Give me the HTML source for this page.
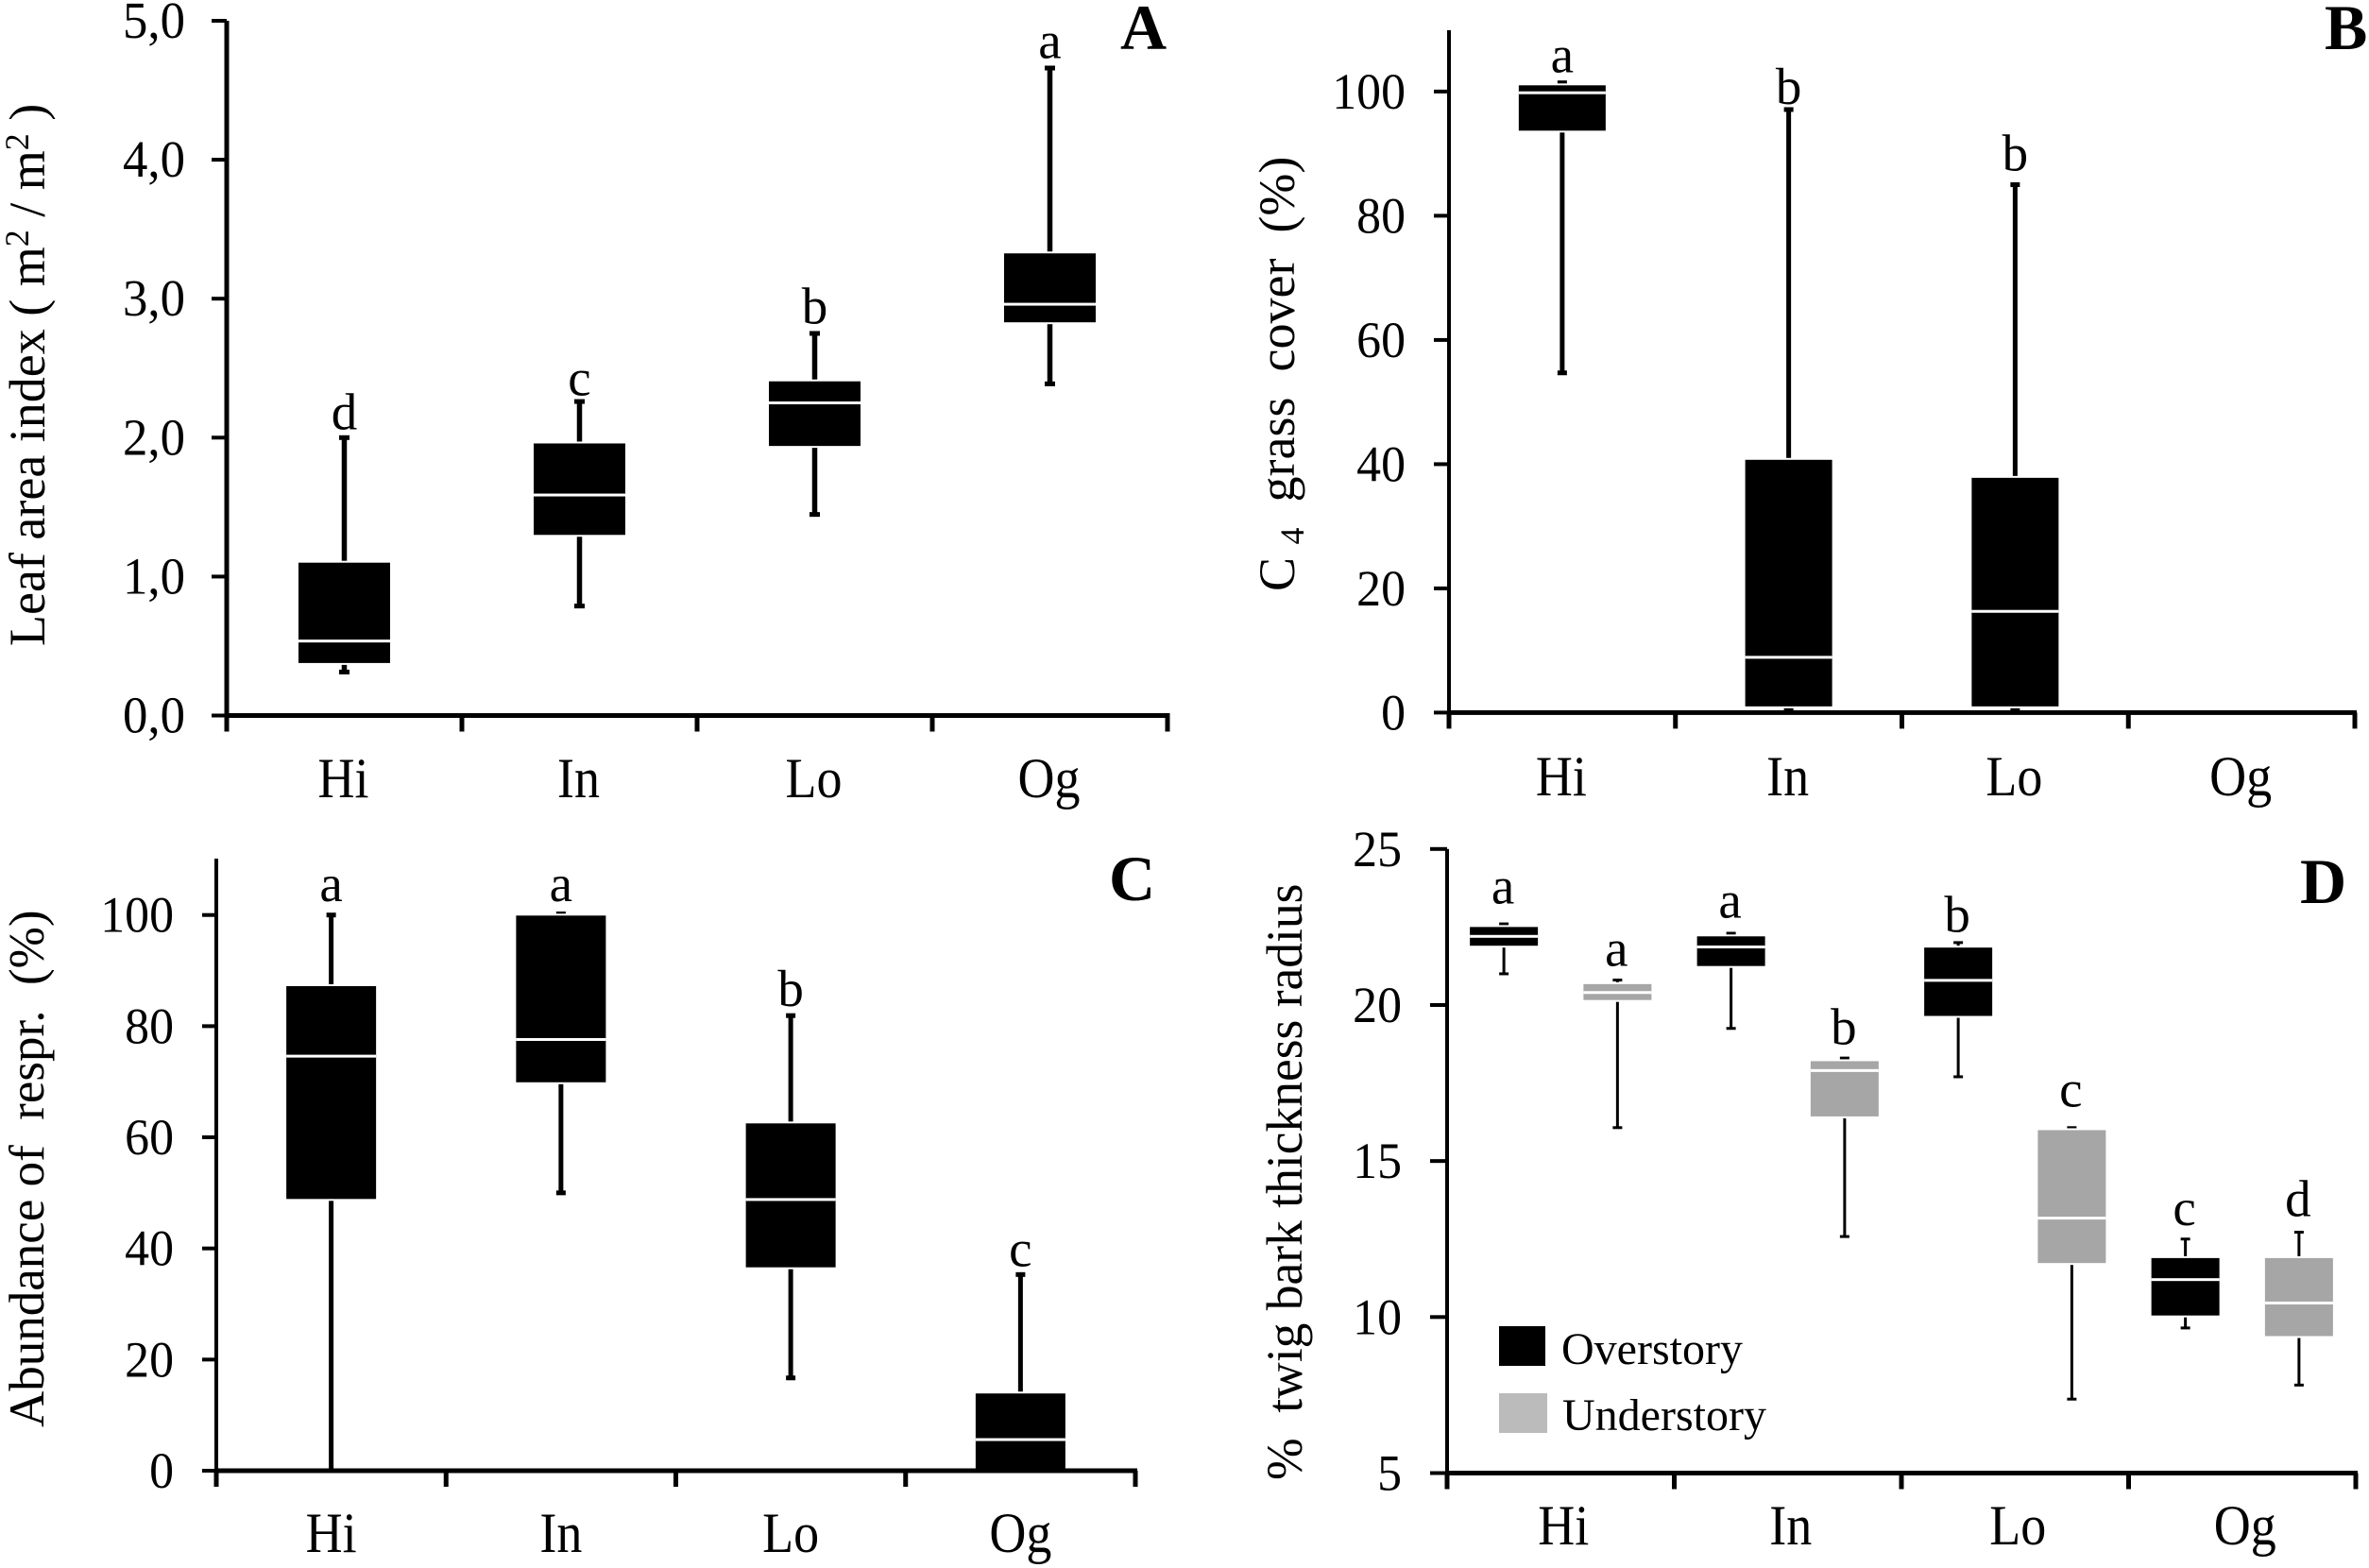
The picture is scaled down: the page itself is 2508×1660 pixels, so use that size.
<!DOCTYPE html>
<html lang="en">
<head>
<meta charset="utf-8">
<title>Box plots by site class</title>
<style>
html,body{margin:0;padding:0;background:#fff;}
svg{display:block;}
text{font-family:"Liberation Serif",serif;fill:#000;white-space:pre;}
.panel-letter{font-size:68px;font-weight:bold;}
</style>
</head>
<body>
<svg id="chart" xmlns="http://www.w3.org/2000/svg" width="2508" height="1660" viewBox="0 0 2508 1660">
  <rect x="0" y="0" width="2508" height="1660" fill="#fff"/>
  <text font-size="54" transform="translate(47,684) rotate(-90)">Leaf area index ( m<tspan font-size="36" dy="-17">2</tspan><tspan dy="17"> / m</tspan><tspan font-size="36" dy="-17">2</tspan><tspan dy="17"> )</tspan></text>
  <text font-size="54" transform="translate(1370,626) rotate(-90)">C <tspan font-size="36" dy="10">4</tspan><tspan dy="-10">  grass  cover  (%)</tspan></text>
  <text font-size="53" transform="translate(46,1511) rotate(-90)">Abundance of  respr.  (%)</text>
  <text font-size="53.5" transform="translate(1378,1567) rotate(-90)">%  twig bark thickness radius</text>
  <text class="panel-letter" x="1186" y="52">A</text>
  <text class="panel-letter" x="2461" y="52">B</text>
  <text class="panel-letter" x="1174" y="953">C</text>
  <text class="panel-letter" x="1" y="1" transform="translate(2434,955)">D</text>
  <g id="marks"></g>
  <g>
    <rect x="1587" y="1404" width="49" height="42" fill="#000"/>
    <text x="1653" y="1444" font-size="48">Overstory</text>
    <rect x="1587" y="1475" width="51" height="42" fill="#bbbbbb"/>
    <text x="1654" y="1514" font-size="48">Understory</text>
  </g>
</svg>
<script>
const siteCategories = ['Hi', 'In', 'Lo', 'Og'];

const aTickLabels = ['0,0', '1,0', '2,0', '3,0', '4,0', '5,0'];
const aTickValues = [0, 1, 2, 3, 4, 5];
const aWhiskerHigh = [2.0, 2.26, 2.75, 4.66];
const aQ3 = [1.10, 1.958, 2.405, 3.326];
const aMedian = [0.536, 1.587, 2.25, 2.96];
const aQ1 = [0.378, 1.30, 1.94, 2.83];
const aWhiskerLow = [0.313, 0.788, 1.447, 2.387];
const aLetters = ['d', 'c', 'b', 'a'];
const aLetterLevels = [2.06, 2.305, 2.82, 4.73];

const bTickLabels = ['0', '20', '40', '60', '80', '100'];
const bTickValues = [0, 20, 40, 60, 80, 100];
const bWhiskerHigh = [101.4, 97.1, 85];
const bQ3 = [101, 40.7, 37.8];
const bMedian = [99.8, 8.9, 16.3];
const bQ1 = [93.7, 1.0, 1.0];
const bWhiskerLow = [54.7, 0.7, 0.7];
const bLetters = ['a', 'b', 'b'];
const bLetterLevels = [103.1, 98.0, 87.3];

const cTickLabels = ['0', '20', '40', '60', '80', '100'];
const cTickValues = [0, 20, 40, 60, 80, 100];
const cWhiskerHigh = [100, 100.2, 81.9, 35.3];
const cQ3 = [87.2, 99.9, 62.5, 13.9];
const cMedian = [74.6, 77.6, 48.8, 5.6];
const cQ1 = [48.9, 69.9, 36.6, 0];
const cWhiskerLow = [0, 50, 16.7, 0];
const cLetters = ['a', 'a', 'b', 'c'];
const cLetterLevels = [102.5, 102.5, 83.6, 36.8];

const dTickLabels = ['5', '10', '15', '20', '25'];
const dTickValues = [5, 10, 15, 20, 25];
const dGroups = ['Hi-overstory', 'Hi-understory', 'In-overstory', 'In-understory', 'Lo-overstory', 'Lo-understory', 'Og-overstory', 'Og-understory'];
const dIsUnderstory = [false, true, false, true, false, true, false, true];
const dWhiskerHigh = [22.6, 20.8, 22.3, 18.3, 22.0, 16.07, 12.5, 12.72];
const dQ3 = [22.5, 20.67, 22.2, 18.2, 21.84, 15.99, 11.89, 11.89];
const dMedian = [22.2, 20.4, 21.86, 17.9, 20.79, 13.17, 11.2, 10.45];
const dQ1 = [21.9, 20.16, 21.25, 16.43, 19.65, 11.73, 10.05, 9.39];
const dWhiskerLow = [21.0, 16.07, 19.25, 12.58, 17.7, 7.37, 9.65, 7.82];
const dLetters = ['a', 'a', 'a', 'b', 'b', 'c', 'c', 'd'];
const dLetterLevels = [23.25, 21.25, 22.8, 18.75, 22.35, 16.75, 12.95, 13.23];

const SVG_NS = 'http://www.w3.org/2000/svg';
const marks = document.getElementById('marks');

function shape(tag, props, parent) {
  const el = document.createElementNS(SVG_NS, tag);
  for (const k in props) el.setAttribute(k, props[k]);
  parent.appendChild(el);
  return el;
}

function linearScale(v0, px0, v1, px1) {
  return function (v) { return px0 + (v - v0) * (px1 - px0) / (v1 - v0); };
}

function drawPanel(id, g) {
  const panel = shape('g', {}, marks);
  
  

  const y = g.y;
  const x = g.x;

  g.boxes.forEach(function (name, i) {
    const cx = x(i);
    const group = shape('g', {}, panel);
    
    

    const whisker = shape('rect', { x: cx - g.whiskerW / 2, y: y(g.high[i]), width: g.whiskerW, height: y(g.low[i]) - y(g.high[i]), fill: '#000' }, group);
    
    

    const capTop = shape('rect', { x: cx - g.capW / 2, y: y(g.high[i]) - g.capH / 2, width: g.capW, height: g.capH, fill: '#000' }, group);
    
    

    const capBottom = shape('rect', { x: cx - g.capW / 2, y: y(g.low[i]) - g.capH / 2, width: g.capW, height: g.capH, fill: '#000' }, group);
    
    

    const box = shape('rect', { x: cx - g.boxW / 2, y: y(g.q3[i]), width: g.boxW, height: y(g.q1[i]) - y(g.q3[i]), fill: g.fill(i), stroke: '#fff', 'stroke-width': 4, 'paint-order': 'stroke' }, group);
    
    

    const median = shape('rect', { x: cx - g.boxW / 2, y: y(g.median[i]) - 1.5, width: g.boxW, height: 3, fill: '#fff' }, group);
    
    

    const letter = shape('text', { x: cx + g.letterNudge, y: y(g.letterLevels[i]), 'text-anchor': 'middle', 'font-size': 55 }, group);
    
    
    letter.textContent = g.letters[i];
  });

  const yAxis = shape('rect', { x: g.left - g.axisW / 2, y: g.axisTop, width: g.axisW, height: g.bottom - g.axisTop + 2, fill: '#000' }, panel);
  
  

  const xAxis = shape('rect', { x: g.left - g.axisW / 2, y: g.bottom - 2.5, width: g.right - g.left + g.axisW, height: 5, fill: '#000' }, panel);
  
  

  g.tickValues.forEach(function (v, i) {
    const tick = shape('rect', { x: g.left - g.tickLen, y: y(v) - 2, width: g.tickLen, height: 4, fill: '#000' }, panel);
    
    

    const label = shape('text', { transform: 'translate(' + g.labelRight + ',' + (y(v) + 18) + ') scale(0.96,1)', 'text-anchor': 'end', 'font-size': g.tickFont }, panel);
    
    
    label.textContent = g.tickLabels[i];
  });

  const step = (g.right - g.left) / siteCategories.length;
  for (let i = 0; i <= siteCategories.length; i++) {
    const tick = shape('rect', { x: g.left + i * step - 2.5, y: g.bottom, width: 5, height: 17, fill: '#000' }, panel);
    
    
  }

  siteCategories.forEach(function (c, i) {
    const label = shape('text', { transform: 'translate(' + (g.left + (i + 0.5) * step + g.catNudge) + ',' + g.catBaseline + ') scale(0.9,1)', 'text-anchor': 'middle', 'font-size': 60 }, panel);
    
    
    label.textContent = c;
  });
}

function bandScale(left, right, count) {
  const w = (right - left) / count;
  return function (i) { return left + (i + 0.5) * w; };
}

drawPanel('a', {
  boxes: siteCategories, high: aWhiskerHigh, q3: aQ3, median: aMedian, q1: aQ1, low: aWhiskerLow,
  letters: aLetters, letterLevels: aLetterLevels, tickValues: aTickValues, tickLabels: aTickLabels,
  y: linearScale(0, 757.5, 5, 22), x: bandScale(240, 1236, 4),
  left: 240, right: 1236, bottom: 757.5, axisTop: 22, axisW: 5, tickLen: 16, labelRight: 196, tickFont: 55,
  boxW: 97, whiskerW: 5.5, capW: 11, capH: 5, catBaseline: 844, catNudge: -1, letterNudge: 0,
  fill: function () { return '#000'; }
});

drawPanel('b', {
  boxes: siteCategories.slice(0, 3), high: bWhiskerHigh, q3: bQ3, median: bMedian, q1: bQ1, low: bWhiskerLow,
  letters: bLetters, letterLevels: bLetterLevels, tickValues: bTickValues, tickLabels: bTickLabels,
  y: linearScale(0, 754.4, 100, 96.9), x: bandScale(1534, 2493, 4),
  left: 1534, right: 2493, bottom: 754.4, axisTop: 32, axisW: 4, tickLen: 16, labelRight: 1488, tickFont: 54,
  boxW: 92, whiskerW: 5, capW: 10, capH: 5, catBaseline: 842, catNudge: -1, letterNudge: 0,
  fill: function () { return '#000'; }
});

drawPanel('c', {
  boxes: siteCategories, high: cWhiskerHigh, q3: cQ3, median: cMedian, q1: cQ1, low: cWhiskerLow,
  letters: cLetters, letterLevels: cLetterLevels, tickValues: cTickValues, tickLabels: cTickLabels,
  y: linearScale(0, 1557, 100, 968.7), x: bandScale(229, 1202, 4),
  left: 229, right: 1202, bottom: 1557, axisTop: 909, axisW: 4, tickLen: 15, labelRight: 184, tickFont: 54,
  boxW: 95, whiskerW: 5, capW: 10, capH: 5, catBaseline: 1643, catNudge: 0, letterNudge: 0,
  fill: function () { return '#000'; }
});

drawPanel('d', {
  boxes: dGroups, high: dWhiskerHigh, q3: dQ3, median: dMedian, q1: dQ1, low: dWhiskerLow,
  letters: dLetters, letterLevels: dLetterLevels, tickValues: dTickValues, tickLabels: dTickLabels,
  y: linearScale(5, 1559.5, 25, 898.8), x: bandScale(1532, 2494, 8),
  left: 1532, right: 2494, bottom: 1559.5, axisTop: 898.8, axisW: 4, tickLen: 18, labelRight: 1484, tickFont: 54,
  boxW: 72, whiskerW: 3, capW: 10, capH: 3, catBaseline: 1635, catNudge: 3, letterNudge: -1,
  fill: function (i) { return dIsUnderstory[i] ? '#a6a6a6' : '#000'; }
});
</script>
</body>
</html>
